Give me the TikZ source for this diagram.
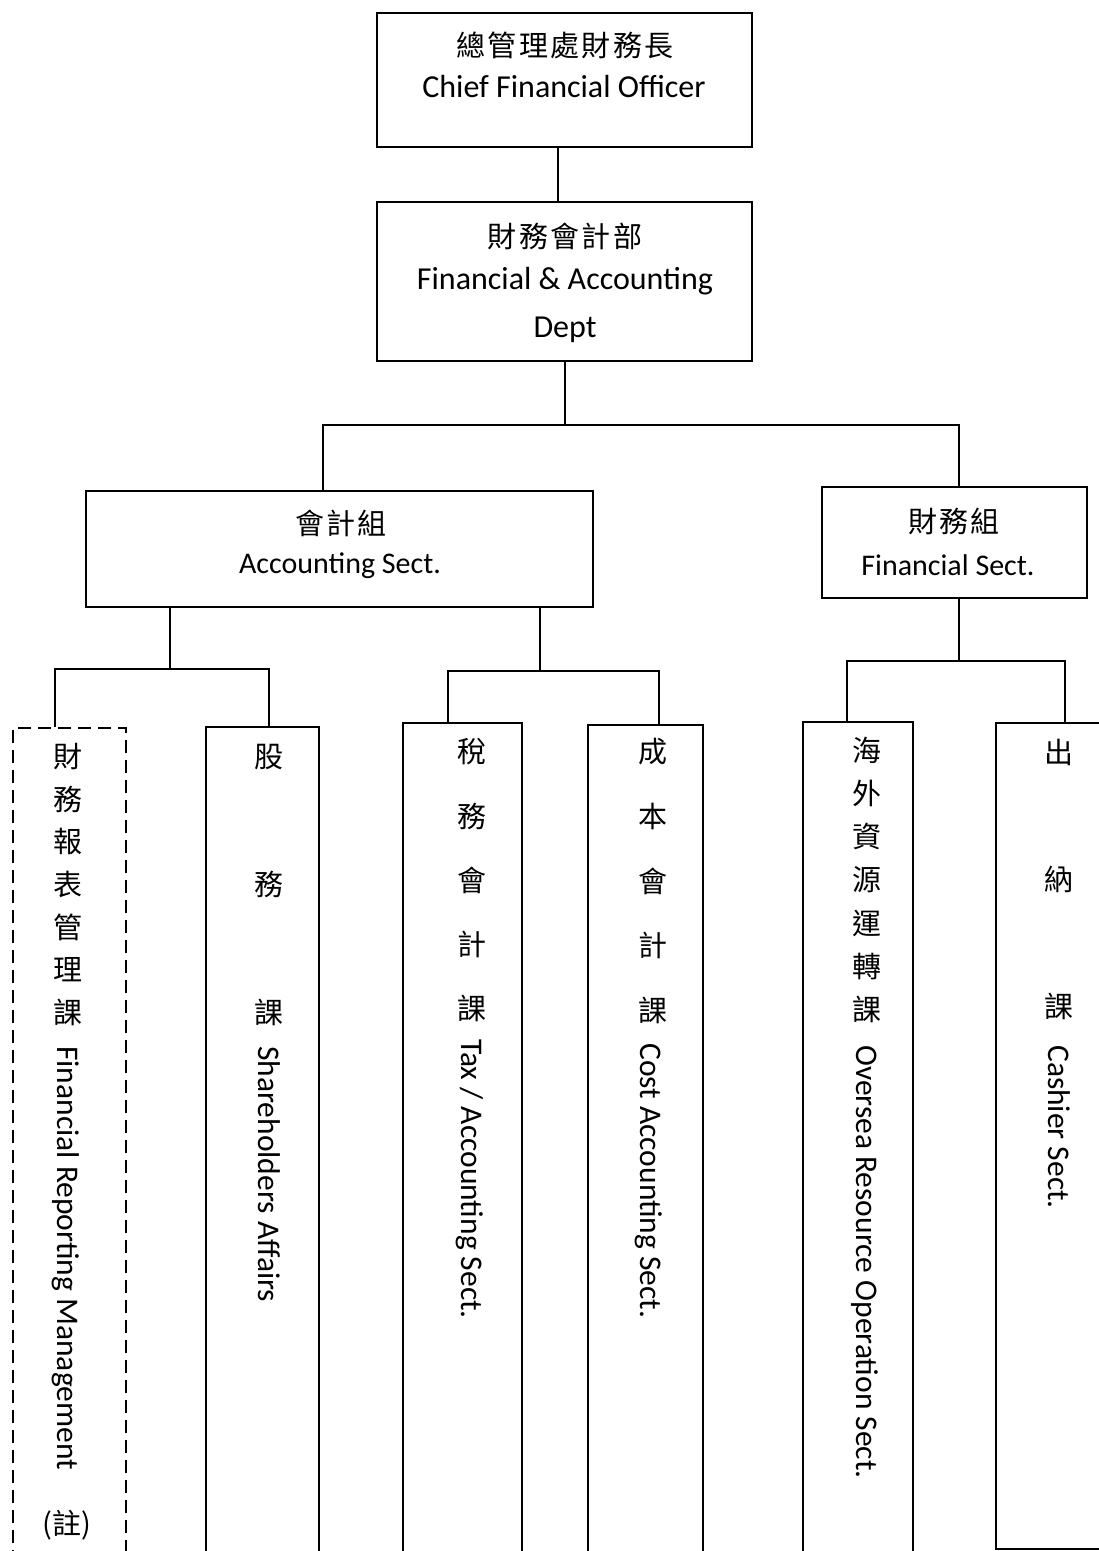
\documentclass[tikz,border=0pt]{standalone}
\usepackage{fontspec}
\setmainfont{Carlito}
\newfontfamily\cjk{Noto Sans CJK TC}
\newfontfamily\cjksp{Noto Sans CJK TC}[LetterSpace=8]
\begin{document}
\begin{tikzpicture}[x=1pt,y=-1pt,
    box/.style={draw,line width=1.6pt,inner sep=0pt},
    conn/.style={line width=1.6pt},
    zh/.style={font=\cjksp\fontsize{29}{34}\selectfont,inner sep=0pt},
    zhv/.style={font=\cjk\fontsize{29}{34}\selectfont,inner sep=0pt},
    en/.style={font=\fontsize{32}{38}\selectfont,inner sep=0pt,anchor=base},
    ens/.style={font=\fontsize{30}{36}\selectfont,inner sep=0pt,anchor=base},
    env/.style={font=\fontsize{31.5}{36}\selectfont,inner sep=0pt,rotate=-90,anchor=base west}]
        \clip (0,0) rectangle (1099,1551);
        \fill[white] (0,0) rectangle (1099,1551);

        %top
        \node[box,minimum width=375pt,minimum height=134pt] (cfo) at (564.5,80) {};
        \node[zh] (cfo-zh) at (565,45) {總管理處財務長};
        \node[en] (cfo-en) at (564,97) {Chief Financial Officer};

        \node[box,minimum width=375pt,minimum height=159pt] (dept) at (564.5,281.5) {};
        \node[zh] (dept-zh) at (565,236) {財務會計部};
        \node[en] (dept-en1) at (565,289) {Financial \& Accounting};
        \node[en] (dept-en2) at (565,337) {Dept};

        %groups
        \node[box,minimum width=507pt,minimum height=116pt] (acct) at (339.5,549) {};
        \node[zh] (acct-zh) at (341,523) {會計組};
        \node[ens] (acct-en) at (340,573) {Accounting Sect.};

        \node[box,minimum width=265pt,minimum height=111pt] (fin) at (954.5,542.5) {};
        \node[zh] (fin-zh) at (954,521) {財務組};
        \node[ens] (fin-en) at (948,575) {Financial Sect.};

        %sections
        \node[box,dash pattern=on 13pt off 7pt,minimum width=113pt,minimum height=872pt] (frm) at (69.5,1164) {};
        \node[box,minimum width=113pt,minimum height=873pt] (share) at (262.5,1163.5) {};
        \node[box,minimum width=119pt,minimum height=877pt] (tax) at (462.5,1161.5) {};
        \node[box,minimum width=115pt,minimum height=875pt] (cost) at (645.5,1162.5) {};
        \node[box,minimum width=110pt,minimum height=878pt] (ovs) at (858,1161) {};
        \node[box,minimum width=134pt,minimum height=826pt] (cash) at (1063,1136) {};

        \foreach \ch [count=\i from 0] in {財,務,報,表,管,理,課}
            \node[zhv] (frm-\i) at (68,{757+42.5*\i}) {\ch};
        \node[zhv] (frm-note) at (67,1525) {(註)};
        \node[env] (frm-en) at (57.5,1046) {Financial Reporting Management};

        \foreach \ch [count=\i from 0] in {股,務,課}
            \node[zhv] (share-\i) at (269,{757+127.5*\i}) {\ch};
        \node[env] (share-en) at (258.5,1046) {Shareholders Affairs};

        \foreach \ch [count=\i from 0] in {稅,務,會,計,課}
            \node[zhv] (tax-\i) at (472,{752+64*\i}) {\ch};
        \node[env] (tax-en) at (461,1039) {Tax / Accounting Sect.};

        \foreach \ch [count=\i from 0] in {成,本,會,計,課}
            \node[zhv] (cost-\i) at (653,{752+64.5*\i}) {\ch};
        \node[env] (cost-en) at (640.5,1043) {Cost Accounting Sect.};

        \foreach \ch [count=\i from 0] in {海,外,資,源,運,轉,課}
            \node[zhv] (ovs-\i) at (867,{750+43.3*\i}) {\ch};
        \node[env] (ovs-en) at (856.5,1045) {Oversea Resource Operation Sect.};

        \foreach \ch [count=\i from 0] in {出,納,課}
            \node[zhv] (cash-\i) at (1059,{752+127*\i}) {\ch};
        \node[env] (cash-en) at (1048.5,1045) {Cashier Sect.};

        %lines
        \draw[conn] ([xshift=-6.5pt]cfo.south) -- ([xshift=-6.5pt]cfo.south |- dept.north);

        \path ([xshift=0.5pt]dept.south) ++(0,63) coordinate (b0);
        \draw[conn] ([xshift=0.5pt]dept.south) -- (b0);
        \draw[conn] (b0) -| ([xshift=-16.5pt]acct.north);
        \draw[conn] (b0) -| ([xshift=4.5pt]fin.north);

        \path ([xshift=-169.5pt]acct.south) ++(0,61) coordinate (b1);
        \draw[conn] ([xshift=-169.5pt]acct.south) -- (b1);
        \draw[conn] (b1) -| ([xshift=-14.5pt]frm.north);
        \draw[conn] (b1) -| ([xshift=6.5pt]share.north);

        \path ([xshift=200.5pt]acct.south) ++(0,63) coordinate (b2);
        \draw[conn] ([xshift=200.5pt]acct.south) -- (b2);
        \draw[conn] (b2) -| ([xshift=-14.5pt]tax.north);
        \draw[conn] (b2) -| ([xshift=13.5pt]cost.north);

        \path ([xshift=4.5pt]fin.south) ++(0,62) coordinate (b3);
        \draw[conn] ([xshift=4.5pt]fin.south) -- (b3);
        \draw[conn] (b3) -| ([xshift=-11pt]ovs.north);
        \draw[conn] (b3) -| ([xshift=2pt]cash.north);

    \end{tikzpicture}
\end{document}
